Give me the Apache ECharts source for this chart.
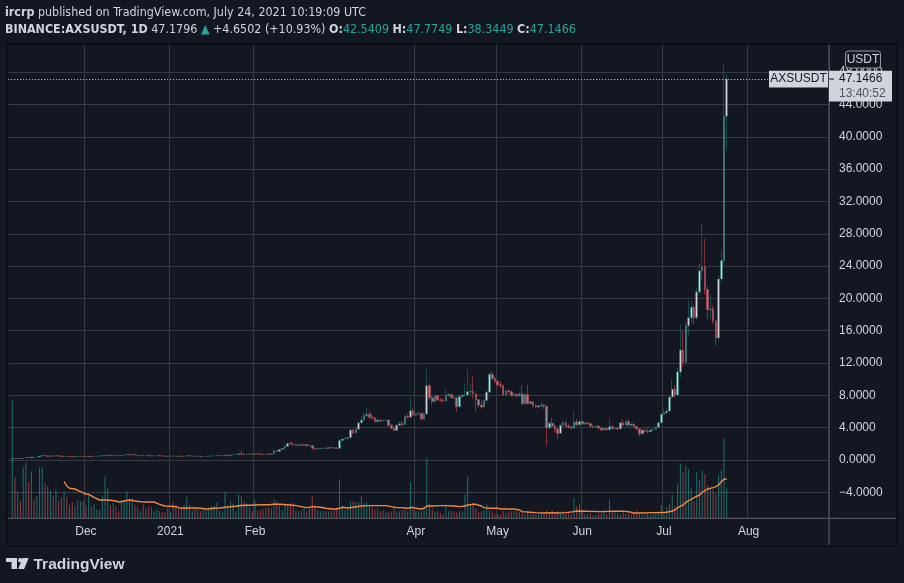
<!DOCTYPE html>
<html><head><meta charset="utf-8">
<script src="https://cdn.jsdelivr.net/npm/echarts@6/dist/echarts.min.js"></script>
<style>html,body{margin:0;padding:0;background:#131722;overflow:hidden}#c{width:904px;height:583px}</style>
</head><body><div id="c"></div>
<script>
// ---- data ----
const firstDate = '2020-11-04';
// daily candles [open, close, low, high]
const ohlc = [
[0.10,0.20,0.08,0.26],[0.20,0.16,0.13,0.22],[0.16,0.19,0.15,0.22],[0.19,0.17,0.15,0.21],[0.17,0.24,0.16,0.27],
[0.24,0.31,0.23,0.34],[0.31,0.27,0.25,0.33],[0.27,0.36,0.26,0.39],[0.36,0.33,0.31,0.38],[0.33,0.37,0.32,0.40],
[0.37,0.48,0.36,0.52],[0.48,0.56,0.46,0.62],[0.56,0.52,0.49,0.64],[0.52,0.47,0.45,0.56],[0.47,0.51,0.46,0.54],
[0.51,0.48,0.46,0.53],[0.48,0.52,0.47,0.55],[0.52,0.49,0.47,0.53],[0.49,0.44,0.42,0.51],[0.44,0.48,0.43,0.50],
[0.48,0.45,0.43,0.49],[0.45,0.43,0.41,0.47],[0.43,0.40,0.38,0.45],[0.40,0.42,0.39,0.44],[0.42,0.45,0.41,0.47],
[0.45,0.47,0.44,0.49],[0.47,0.42,0.40,0.48],[0.42,0.39,0.37,0.44],[0.39,0.45,0.38,0.47],[0.45,0.43,0.41,0.46],
[0.43,0.46,0.42,0.48],[0.46,0.48,0.45,0.49],[0.48,0.49,0.47,0.51],[0.49,0.53,0.48,0.56],[0.53,0.58,0.51,0.63],
[0.58,0.61,0.56,0.65],[0.61,0.57,0.55,0.62],[0.57,0.59,0.56,0.61],[0.59,0.56,0.54,0.60],[0.56,0.55,0.54,0.57],
[0.55,0.58,0.54,0.60],[0.58,0.61,0.57,0.63],[0.61,0.68,0.60,0.72],[0.68,0.63,0.61,0.70],[0.63,0.66,0.62,0.69],
[0.66,0.60,0.58,0.67],[0.60,0.56,0.54,0.61],[0.56,0.57,0.55,0.58],[0.57,0.54,0.52,0.58],[0.54,0.55,0.53,0.57],
[0.55,0.52,0.51,0.56],[0.52,0.50,0.49,0.53],[0.50,0.51,0.49,0.52],[0.51,0.53,0.50,0.54],[0.53,0.51,0.50,0.54],
[0.51,0.49,0.48,0.52],[0.49,0.47,0.46,0.50],[0.47,0.49,0.46,0.50],[0.49,0.50,0.48,0.51],[0.50,0.46,0.45,0.52],
[0.46,0.50,0.45,0.52],[0.50,0.47,0.46,0.51],[0.47,0.45,0.44,0.48],[0.45,0.48,0.44,0.50],[0.48,0.53,0.47,0.56],
[0.53,0.49,0.47,0.54],[0.49,0.50,0.48,0.51],[0.50,0.46,0.44,0.51],[0.46,0.47,0.45,0.48],[0.47,0.44,0.42,0.48],
[0.44,0.45,0.43,0.46],[0.45,0.46,0.44,0.47],[0.46,0.48,0.45,0.49],[0.48,0.50,0.47,0.52],[0.50,0.52,0.49,0.54],
[0.52,0.56,0.51,0.59],[0.56,0.53,0.52,0.57],[0.53,0.54,0.52,0.55],[0.54,0.61,0.53,0.65],[0.61,0.57,0.55,0.63],
[0.57,0.62,0.56,0.64],[0.62,0.66,0.61,0.68],[0.66,0.67,0.65,0.68],[0.67,0.78,0.66,0.82],[0.78,0.72,0.68,1.25],
[0.72,0.66,0.63,0.80],[0.66,0.72,0.65,0.75],[0.72,0.75,0.70,0.78],[0.75,0.70,0.68,0.77],[0.70,0.78,0.69,0.82],
[0.78,0.74,0.72,0.80],[0.74,0.70,0.68,0.76],[0.70,0.68,0.66,0.73],[0.68,0.74,0.67,0.77],[0.74,0.70,0.68,0.76],
[0.70,0.78,0.69,0.81],[0.78,1.14,0.76,1.20],[1.14,1.05,1.00,1.20],[1.05,1.30,1.03,1.40],[1.30,1.45,1.28,1.50],
[1.45,1.70,1.42,1.80],[1.70,2.05,1.66,2.15],[2.05,1.98,1.90,2.30],[1.98,1.85,1.75,2.20],[1.85,1.80,1.72,1.95],
[1.80,1.90,1.78,1.98],[1.90,1.82,1.75,1.94],[1.82,1.92,1.80,2.00],[1.92,1.75,1.68,1.98],[1.75,1.80,1.70,1.86],
[1.80,1.45,1.30,1.85],[1.45,1.35,1.20,1.52],[1.35,1.40,1.30,1.48],[1.40,1.45,1.36,1.50],[1.45,1.50,1.40,1.55],
[1.50,1.42,1.35,1.55],[1.42,1.56,1.38,1.60],[1.56,1.52,1.45,1.62],[1.52,1.48,1.42,1.58],[1.48,1.45,1.40,1.60],
[1.45,2.40,1.42,2.60],[2.40,2.60,2.30,2.75],[2.60,2.65,2.50,2.80],[2.65,2.75,2.55,2.90],[2.75,3.70,2.70,3.80],
[3.70,3.35,3.20,3.85],[3.35,3.80,3.30,3.95],[3.80,4.60,3.75,4.75],[4.60,4.95,4.50,5.40],[4.95,5.50,4.85,5.90],
[5.50,5.65,5.20,6.55],[5.65,5.30,5.10,6.05],[5.30,5.20,5.00,5.80],[5.20,4.75,4.60,5.40],[4.75,4.95,4.65,5.05],
[4.95,4.85,4.70,5.00],[4.85,4.90,4.70,5.00],[4.90,4.95,4.80,5.05],[4.95,4.30,4.15,5.00],[4.30,3.95,3.80,4.40],
[3.95,3.65,3.50,4.05],[3.65,4.30,3.60,4.45],[4.30,4.50,4.20,4.80],[4.50,4.40,4.25,4.85],[4.40,5.40,4.35,5.60],
[5.40,5.30,5.10,5.70],[5.30,6.10,5.20,7.80],[6.10,5.55,5.40,6.40],[5.55,5.70,5.45,5.95],[5.70,5.75,5.40,5.90],
[5.75,5.05,4.95,5.85],[5.05,5.70,5.00,5.90],[5.70,9.20,5.60,11.30],[9.20,7.70,7.40,9.50],[7.70,7.25,6.70,7.95],
[7.25,7.95,7.10,8.05],[7.95,7.45,7.30,8.05],[7.45,7.35,7.15,7.70],[7.35,7.30,7.10,7.60],[7.30,7.95,7.25,8.80],
[7.95,8.10,7.75,8.30],[8.10,7.75,7.60,8.25],[7.75,7.70,7.50,7.90],[7.70,6.60,5.95,7.80],[6.60,7.85,6.50,8.00],
[7.85,8.00,7.70,8.20],[8.00,8.05,7.90,9.40],[8.05,8.45,8.00,11.20],[8.45,8.50,8.10,9.40],[8.50,8.20,7.60,10.35],
[8.20,7.45,5.95,8.30],[7.45,6.80,6.50,7.55],[6.80,6.55,6.30,7.40],[6.55,7.35,6.45,7.50],[7.35,8.40,7.30,8.70],
[8.40,10.60,8.30,10.80],[10.60,10.10,9.85,10.95],[10.10,9.70,9.50,10.30],[9.70,9.30,9.10,9.90],[9.30,9.20,8.90,9.80],
[9.20,8.05,7.90,9.35],[8.05,8.55,7.95,8.70],[8.55,8.45,8.20,8.80],[8.45,8.00,7.85,8.65],[8.00,8.10,7.80,8.30],
[8.10,7.95,7.70,8.25],[7.95,8.15,7.85,8.35],[8.15,6.95,6.80,9.25],[6.95,8.10,6.90,8.20],[8.10,7.00,6.85,9.30],
[7.00,7.20,6.90,7.40],[7.20,6.70,6.50,7.30],[6.70,6.55,6.40,6.90],[6.55,6.70,6.40,6.90],[6.70,6.80,6.50,7.20],
[6.80,6.65,6.30,6.95],[6.65,4.00,1.80,6.75],[4.00,4.55,3.80,4.80],[4.55,4.20,4.00,5.25],[4.20,3.80,3.40,4.40],
[3.80,3.30,2.60,3.95],[3.30,4.30,3.20,4.50],[4.30,4.60,4.20,4.80],[4.60,4.20,4.05,4.85],[4.20,4.05,3.90,4.45],
[4.05,3.95,3.85,4.20],[3.95,4.70,3.90,6.10],[4.70,4.35,4.20,5.10],[4.35,4.75,4.25,4.95],[4.75,4.45,4.30,4.90],
[4.45,4.60,4.35,4.75],[4.60,4.50,4.35,4.70],[4.50,4.20,4.10,4.60],[4.20,4.10,4.00,4.30],[4.10,4.20,4.00,4.30],
[4.20,3.95,3.80,4.30],[3.95,3.70,3.55,4.05],[3.70,3.90,3.60,4.10],[3.90,3.75,3.65,3.95],[3.75,4.10,3.70,5.20],
[4.10,3.90,3.80,4.30],[3.90,3.95,3.80,4.05],[3.95,3.85,3.75,4.00],[3.85,4.60,3.80,4.70],[4.60,4.30,4.20,5.00],
[4.30,4.75,4.20,4.85],[4.75,4.30,4.20,5.10],[4.30,4.45,4.20,4.55],[4.45,4.10,4.00,4.55],[4.10,3.85,3.75,4.30],
[3.85,3.25,2.85,3.95],[3.25,3.70,3.15,3.85],[3.70,3.55,3.40,3.90],[3.55,3.50,3.35,3.95],[3.50,3.70,3.40,3.80],
[3.70,3.80,3.60,3.95],[3.80,4.05,3.70,4.15],[4.05,4.60,3.95,4.75],[4.60,5.65,4.50,5.90],[5.65,5.85,5.50,6.30],
[5.85,6.05,5.70,6.35],[6.05,7.80,5.95,8.00],[7.80,8.75,7.60,10.00],[8.75,8.05,7.70,9.20],[8.05,10.90,7.95,11.40],
[10.90,13.60,10.30,16.80],[13.60,12.10,11.50,16.00],[12.10,16.60,11.90,17.10],[16.60,17.60,15.40,19.80],[17.60,18.90,16.90,19.70],
[18.90,17.60,16.80,19.20],[17.60,20.80,17.30,21.30],[20.80,23.40,20.40,24.40],[23.40,23.90,22.30,29.20],[23.90,21.10,20.40,27.40],
[21.10,18.60,17.40,21.50],[18.60,18.70,17.50,20.50],[18.70,17.20,16.80,19.10],[17.20,15.10,14.10,17.40],[15.10,22.40,14.70,22.90],
[22.40,24.70,22.00,25.90],[24.70,42.53,24.10,48.90],[42.5409,47.1466,38.3449,47.7749]
];
// daily volume (relative units)
const volume = [
118,41,27,17,51,56,36,47,19,22, 51,51,35,32,28,22,29,17,21,27,
21,13,16,12,18,17,17,13,23,12, 14,9,8,23,42,30,13,15,12,7,
17,18,27,19,20,13,11,7,14,10, 12,11,7,9,7,6,6,10,6,16,
13,11,9,13,21,13,8,11,9,7, 8,9,10,12,12,16,7,7,26,13,
17,15,7,24,22,17,15,11,7,18, 8,8,9,10,11,10,19,17,13,8,
13,13,15,15,8,7,7,10,7,10, 22,13,8,7,7,7,7,7,8,10,
39,13,8,9,17,17,16,16,22,15, 16,13,11,9,10,7,8,7,6,7,
10,7,7,8,9,7,36,10,7,7, 7,10,60,15,10,7,7,5,4,13,
7,7,7,6,7,7,24,42,13,15, 10,6,7,8,14,8,7,4,4,4,
7,5,6,7,7,7,6,7,4,6, 4,5,4,5,7,6,8,5,8,6,
7,5,7,4,5,4,20,12,14,7, 4,4,5,3,3,5,5,8,4,19,
6,6,5,4,7,4,6,4,5,8, 6,4,4,5,4,5,5,7,13,6,
11,14,24,12,34,55,46,52,49,30, 17,46,38,48,44,33,29,28,24,43,
48,80,30
];
// 20-day volume moving average: [day number from first candle, value]
const volMA = [
[19,36.6],[20,32.3],[21,30],[23,29.3],[25,26.6],[27,24.3],[28,24],[30,21],[32,18.3],[34,18.3],[36,18],[38,17.3],
[39,16.3],[41,17.3],[43,18.3],[45,17.3],[47,16.6],[49,16.3],[52,16.3],[54,14],[56,12.3],[58,12],[60,11.6],[61,10.6],
[63,10],[65,10.3],[67,10.3],[69,10],[71,9.3],[72,9.6],[74,10],[76,10.3],[78,11],[80,11.6],[82,12],[83,12.6],[85,13],
[87,13],[89,13.3],[91,13.6],[94,13.6],[96,14],[98,14],[102,13.3],[104,12.7],[106,11.7],[108,10.7],[110,11.7],[113,11],
[115,10],[118,9],[120,10],[121,11],[123,10.3],[125,11],[128,12.3],[130,12.7],[135,12.7],[137,12.7],[139,11.7],[141,10.7],
[143,10.7],[145,10],[147,11],[148,10],[150,9.3],[151,10],[152,12.3],[154,12.3],[157,12.7],[159,12.7],[162,12.3],[164,11.7],
[166,12.3],[167,13.3],[169,14],[170,14],[172,12.3],[173,10.7],[175,10],[178,10],[179,9.3],[184,9.3],[186,8.3],[187,6.7],
[190,6],[192,5.7],[195,5.3],[197,5.7],[200,5.3],[203,5.7],[206,6.7],[207,7.3],[211,7],[216,6.7],[220,7],[224,7],[226,6.7],
[228,5.3],[230,5.3],[234,5.7],[238,5.7],[240,6],[242,7.3],[243,8.3],[244,10.7],[246,13.3],[247,16],[248,17.7],[249,19],
[250,20.7],[252,23.3],[253,26],[254,27.7],[255,29.3],[257,30.7],[258,31.7],[259,33.3],[260,36.7],[261,39],[262,39.3]
];
const tickDates = ['2020-12-01','2021-01-01','2021-02-01','2021-04-01','2021-05-01','2021-06-01','2021-07-01','2021-08-01'];
const tickNames = ['Dec','2021','Feb','Apr','May','Jun','Jul','Aug'];
const lastPrice = 47.1466;
const lastPriceText = '47.1466';
const countdownText = '13:40:52';
const symbolName = 'AXSUSDT';
const currency = 'USDT';
const headerLine1 = '{b|ircrp} published on TradingView.com, July 24, 2021 10:19:09 UTC';
const headerLine2 = '{b|BINANCE:AXSUSDT, 1D} 47.1796 {t|\u25B2} +4.6502 (+10.93%) {b|O:}{t|42.5409} {b|H:}{t|47.7749} {b|L:}{t|38.3449} {b|C:}{t|47.1466}';

// ---- axis domain: one category per calendar day ----
const cats = [];
const t0 = Date.UTC(2020, 10, 3);
for (let j = 0; j < 301; j++) cats.push(new Date(t0 + j * 86400000).toISOString().slice(0, 10));
const off = cats.indexOf(firstDate);

const UP_WICK = '#1f6f69', DN_WICK = '#cf434b';
const UP_BODY = '#d1d4dc', DN_BODY = '#868993';
const VOL_UP = 'rgba(38,166,154,0.62)', VOL_DN = 'rgba(239,83,80,0.62)';
const GRID = '#363a45', AXISC = '#5d606b', TXT = '#d1d4dc';
const FONT = '"Liberation Sans", Arial, sans-serif';
const HFONT = '"Liberation Sans Narrow", "DejaVu Sans Condensed", "Liberation Sans", sans-serif';
const HSIZE = 12.4;

const candleData = cats.map((d, j) => (j >= off && j - off < ohlc.length) ? ohlc[j - off] : '-');
const volData = cats.map((d, j) => {
  const k = j - off;
  if (k < 0 || k >= volume.length) return '-';
  const up = ohlc[k][1] >= ohlc[k][0];
  return { value: volume[k], itemStyle: { color: up ? VOL_UP : VOL_DN } };
});
const maData = volMA.map(p => [cats[p[0] + off], p[1]]);

const splitColors = [];
for (let v = -8; v <= 52; v += 4) splitColors.push((v === -8 || v === 52) ? 'rgba(0,0,0,0)' : GRID);

const isTick = (idx, val) => tickDates.indexOf(val !== undefined ? val : cats[idx]) >= 0;

const chart = echarts.init(document.getElementById('c'));
const option = {
  backgroundColor: '#131722',
  animation: false,
  grid: [
    { left: 8.2, right: 75, top: 39.84, bottom: 58.36 },
    { left: 8.2, right: 75, top: 44, bottom: 64.7 }
  ],
  xAxis: [
    { type: 'category', gridIndex: 0, data: cats, boundaryGap: true, show: false },
    { type: 'category', gridIndex: 1, data: cats, boundaryGap: true,
      axisLine: { show: false }, axisTick: { show: false },
      splitLine: { show: true, interval: (i, v) => isTick(i, v), lineStyle: { color: GRID, width: 1 } },
      axisLabel: { interval: (i, v) => isTick(i, v), formatter: v => tickNames[tickDates.indexOf(v)] || '',
        color: TXT, fontFamily: FONT, fontSize: 12, margin: 7 } }
  ],
  yAxis: [
    { type: 'value', gridIndex: 0, position: 'right', min: -8, max: 52, interval: 4,
      axisLine: { show: false }, axisTick: { show: false },
      splitLine: { show: true, lineStyle: { color: splitColors, width: 1 } },
      axisLabel: { color: TXT, fontFamily: FONT, fontSize: 12, margin: 10, align: 'left',
        showMinLabel: false, showMaxLabel: false,
        formatter: v => (v < 0 ? '\u2212' : '') + Math.abs(v).toFixed(4) } },
    { type: 'value', gridIndex: 1, min: 0, max: 474.3, show: false, splitLine: { show: false } }
  ],
  series: [
    { type: 'bar', xAxisIndex: 1, yAxisIndex: 1, data: volData, barWidth: 1, z: 1, silent: true },
    { type: 'line', xAxisIndex: 1, yAxisIndex: 1, data: maData, showSymbol: false, smooth: false,
      lineStyle: { color: '#f0883e', width: 1.4 }, z: 2, silent: true },
    { type: 'candlestick', xAxisIndex: 0, yAxisIndex: 0, data: candleData, barWidth: 2.1, z: 3, silent: true,
      itemStyle: { color: UP_BODY, color0: DN_BODY, borderColor: UP_WICK, borderColor0: DN_WICK, borderWidth: 0.6 },
      markLine: { silent: true, symbol: ['none', 'none'], animation: false,
        data: [{ yAxis: lastPrice }], label: { show: false },
        lineStyle: { type: [1, 2], color: '#d1d4dc', width: 1 } } }
  ]
};
chart.setOption(option);

const py = chart.convertToPixel({ yAxisIndex: 0 }, lastPrice);

const graphic = [
  // frame & axis separators
  { type: 'line', shape: { x1: 7, y1: 518.3, x2: 897, y2: 518.3 }, style: { stroke: AXISC, lineWidth: 1 }, z: 50 },
  { type: 'line', shape: { x1: 829, y1: 44, x2: 829, y2: 546 }, style: { stroke: AXISC, lineWidth: 1 }, z: 50 },
  { type: 'rect', shape: { x: 7, y: 44, width: 890, height: 502 }, style: { fill: 'none', stroke: '#0a0c11', lineWidth: 1.5 }, z: 50 },
  // header
  { type: 'text', z: 60, style: { x: 5, y: 12.5, verticalAlign: 'middle', text: headerLine1, fill: TXT,
      fontFamily: HFONT, fontSize: HSIZE,
      rich: { b: { fontWeight: 'bold', fill: TXT, fontFamily: HFONT, fontSize: HSIZE } } } },
  { type: 'text', z: 60, style: { x: 5, y: 30, verticalAlign: 'middle', text: headerLine2, fill: TXT,
      fontFamily: HFONT, fontSize: HSIZE,
      rich: { b: { fontWeight: 'bold', fill: TXT, fontFamily: HFONT, fontSize: HSIZE },
              t: { fill: '#26a69a', fontFamily: HFONT, fontSize: HSIZE } } } },
  // currency badge
  { type: 'rect', z: 60, shape: { x: 845.5, y: 51, width: 35, height: 17, r: 3 }, style: { fill: '#131722', stroke: '#9598a1', lineWidth: 1 } },
  { type: 'text', z: 61, style: { x: 863, y: 59.6, align: 'center', verticalAlign: 'middle', text: currency, fill: TXT, fontFamily: FONT, fontSize: 12 } },
  // last price labels
  { type: 'rect', z: 60, shape: { x: 769, y: py - 8.3, width: 59, height: 16.7 }, style: { fill: '#d1d4dc' } },
  { type: 'text', z: 61, style: { x: 798.5, y: py, align: 'center', verticalAlign: 'middle', text: symbolName, fill: '#131722', fontFamily: FONT, fontSize: 12 } },
  { type: 'rect', z: 60, shape: { x: 829, y: py - 8.3, width: 63, height: 30.7 }, style: { fill: '#d1d4dc' } },
  { type: 'line', z: 61, shape: { x1: 829, y1: py, x2: 834, y2: py }, style: { stroke: '#131722', lineWidth: 1 } },
  { type: 'text', z: 61, style: { x: 839, y: py, verticalAlign: 'middle', text: lastPriceText, fill: '#131722', fontFamily: FONT, fontSize: 12 } },
  { type: 'text', z: 61, style: { x: 839, y: py + 14.2, verticalAlign: 'middle', text: countdownText, fill: '#50535e', fontFamily: FONT, fontSize: 12 } },
  // TradingView logo
  { type: 'rect', z: 60, shape: { x: 6, y: 558, width: 11, height: 4 }, style: { fill: '#d1d4dc' } },
  { type: 'rect', z: 60, shape: { x: 11.5, y: 558, width: 5.5, height: 11 }, style: { fill: '#d1d4dc' } },
  { type: 'circle', z: 60, shape: { cx: 20.3, cy: 560.2, r: 2.2 }, style: { fill: '#d1d4dc' } },
  { type: 'polygon', z: 60, shape: { points: [[22.5, 558], [28.6, 558], [24.2, 569], [18.2, 569]] }, style: { fill: '#d1d4dc' } },
  { type: 'text', z: 60, style: { x: 33.5, y: 564.5, verticalAlign: 'middle', text: 'TradingView', fill: '#d1d4dc', fontFamily: FONT, fontSize: 15.5, fontWeight: 'bold' } }
];
chart.setOption({ graphic: graphic });
</script>
</body></html>
